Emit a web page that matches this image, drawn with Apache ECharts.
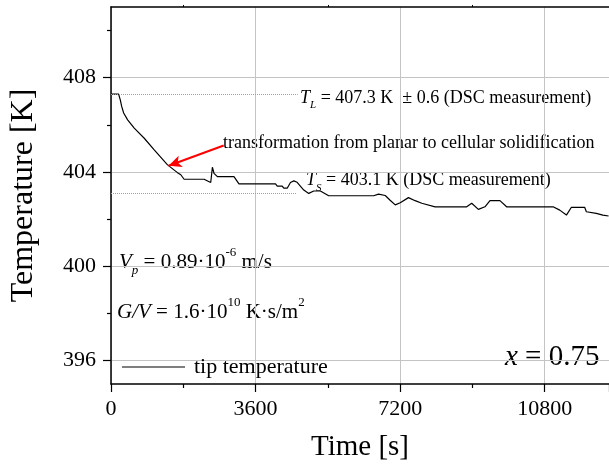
<!DOCTYPE html>
<html>
<head>
<meta charset="utf-8">
<script src="https://cdn.jsdelivr.net/npm/echarts@6/dist/echarts.min.js"></script>
<style>
  html, body { margin: 0; padding: 0; background: #fff; }
  #chart { width: 609px; height: 468px; }
</style>
</head>
<body>
<div id="chart"></div>
<script>
// Tip temperature during directional solidification
const timeS = [0, 190, 231, 266, 315, 414, 579, 828, 1076, 1408, 1656, 1738, 1820,
  2317, 2483, 2525, 2565, 2649, 3062, 3186, 4097, 4139, 4263, 4303, 4387, 4469,
  4552, 4635, 4800, 4924, 5048, 5214, 5420, 6539, 6662, 6828, 6950, 7077, 7201,
  7407, 7573, 7739, 8070, 8857, 8981, 9147, 9312, 9436, 9685, 9850, 11008, 11174,
  11340, 11464, 11794, 11836, 12083, 12248, 12390];
const tipTempK = [407.3, 407.3, 407.06, 406.78, 406.5, 406.21, 405.86, 405.43, 404.94, 404.3, 403.97, 403.88, 403.69,
  403.69, 403.55, 404.2, 403.94, 403.8, 403.8, 403.49, 403.49, 403.4, 403.4, 403.31, 403.31, 403.55,
  403.62, 403.56, 403.23, 403.09, 403.19, 403.19, 402.99, 402.99, 403.06, 403.0, 402.8, 402.6, 402.69,
  402.91, 402.78, 402.67, 402.52, 402.52, 402.67, 402.41, 402.52, 402.78, 402.78, 402.52, 402.52, 402.38,
  402.17, 402.5, 402.5, 402.31, 402.24, 402.17, 402.13];

// Reference temperatures (DSC) and the transition arrow, in data units
const liquidusK = 407.3;
const solidusK = 403.1;
const refLineEndS = [4650, 4620];
const arrowFrom = [2806, 405.12];
const arrowTo = [1433, 404.26];

const xTicks = [0, 3600, 7200, 10800];
const yMajorTicks = [396, 400, 404, 408];
const yMinorTicks = [398, 402, 406, 410];

const SERIF = 'Liberation Serif';
const measureCtx = document.createElement('canvas').getContext('2d');
function textWidth(str, size, italic) {
  measureCtx.font = (italic ? 'italic ' : '') + size + 'px "' + SERIF + '"';
  return measureCtx.measureText(str).width;
}
// Inline formula built from pieces: '' normal, 'i' italic, 'sub'/'isub' subscript, 'sup' superscript
function formula(x, y, size, parts) {
  const children = [];
  let cx = x;
  for (const [t, kind] of parts) {
    const isSub = kind.indexOf('sub') >= 0;
    const isSup = kind.indexOf('sup') >= 0;
    const italic = kind.charAt(0) === 'i';
    const fs = (isSub || isSup) ? Math.round(size * 0.62) : size;
    const dy = isSub ? size * 0.42 : (isSup ? -size * 0.45 : 0);
    children.push({
      type: 'text', x: cx, y: y + dy, silent: true,
      style: {
        text: t, fill: '#000', fontSize: fs, fontFamily: SERIF,
        fontStyle: italic ? 'italic' : 'normal', align: 'left', verticalAlign: 'middle'
      }
    });
    cx += textWidth(t, fs, italic);
  }
  return { type: 'group', children: children };
}

const seriesData = timeS.map((t, i) => [t, tipTempK[i]]);

const chart = echarts.init(document.getElementById('chart'), null, { renderer: 'canvas' });

const axisLineStyle = { color: '#000', width: 1.5 };
const gridLineStyle = { color: '#c4c4c4', width: 1 };
const tickLabel = { fontFamily: SERIF, fontSize: 22, color: '#000', formatter: v => String(v) };

chart.setOption({
  animation: false,
  backgroundColor: '#fff',
  grid: { left: 110, top: 7, right: 0, bottom: 84, containLabel: false },
  legend: {
    left: 122, top: 356, padding: 0,
    icon: 'rect', itemWidth: 63, itemHeight: 1.2,
    itemStyle: { color: '#000' },
    textStyle: { fontFamily: SERIF, fontSize: 22, color: '#000', padding: [0, 0, 0, 4] },
    data: ['tip temperature']
  },
  xAxis: [{
    type: 'value', min: 0, max: 12400, interval: 3600,
    name: 'Time [s]', nameLocation: 'middle', nameGap: 49,
    nameTextStyle: { fontFamily: SERIF, fontSize: 29, color: '#000' },
    axisLine: { lineStyle: axisLineStyle },
    axisTick: { show: true, length: 8, lineStyle: { color: '#000', width: 1.2 } },
    minorTick: { show: true, splitNumber: 2, length: 4, lineStyle: { color: '#000', width: 1.2 } },
    axisLabel: Object.assign({ margin: 14, customValues: xTicks }, tickLabel),
    splitLine: { show: true, lineStyle: gridLineStyle }
  }, {
    type: 'value', position: 'top', min: 0, max: 12400, interval: 3600,
    axisLine: { lineStyle: axisLineStyle },
    axisTick: { show: false },
    minorTick: { show: true, splitNumber: 2, length: 2, lineStyle: { color: '#000', width: 1 } },
    axisLabel: { show: false },
    splitLine: { show: false }
  }],
  yAxis: [{
    type: 'value', min: 395, max: 411,
    name: 'Temperature [K]', nameLocation: 'middle', nameGap: 71,
    nameTextStyle: { fontFamily: SERIF, fontSize: 32, color: '#000' },
    axisLine: { show: true, lineStyle: axisLineStyle },
    axisTick: { show: true, length: 8, customValues: yMajorTicks, lineStyle: { color: '#000', width: 1.2 } },
    axisLabel: Object.assign({ margin: 15, customValues: yMajorTicks }, tickLabel),
    splitLine: { show: true, lineStyle: gridLineStyle }
  }, {
    type: 'value', position: 'left', min: 395, max: 411,
    axisLine: { show: false },
    axisTick: { show: true, length: 4, customValues: yMinorTicks, lineStyle: { color: '#000', width: 1.2 } },
    axisLabel: { show: false, customValues: yMinorTicks },
    splitLine: { show: false }
  }],
  series: [{
    name: 'tip temperature',
    type: 'line',
    data: seriesData,
    symbol: 'none',
    lineStyle: { color: '#000', width: 1.2 },
    itemStyle: { color: '#000' },
    markLine: {
      silent: true,
      symbol: 'none',
      label: { show: false },
      data: [
        [{ coord: [0, liquidusK], lineStyle: { color: '#f08080', type: 'dotted', width: 1 } },
         { coord: [refLineEndS[0], liquidusK] }],
        [{ coord: [0, solidusK], lineStyle: { color: '#f08080', type: 'dotted', width: 1 } },
         { coord: [refLineEndS[1], solidusK] }],
        [{ coord: arrowFrom, symbol: 'none', lineStyle: { color: '#ff0000', type: 'solid', width: 2 } },
         { coord: arrowTo, symbol: 'arrow', symbolSize: [9, 13] }]
      ]
    }
  }],
  graphic: [
    formula(300, 98, 18, [['T', 'i'], ['L', 'isub'], [' = 407.3 K  \u00b1 0.6 (DSC measurement)', '']]),
    formula(223, 143, 18, [['transformation from planar to cellular solidification', '']]),
    formula(306, 180.5, 18, [['T', 'i'], ['S', 'isub'], [' = 403.1 K (DSC measurement)', '']]),
    formula(119, 262, 21, [['V', 'i'], ['p', 'isub'], [' = 0.89\u00b710', ''], ['-6', 'sup'], [' m/s', '']]),
    formula(117, 312.5, 21, [['G/V', 'i'], [' = 1.6\u00b710', ''], ['10', 'sup'], [' K\u00b7s/m', ''], ['2', 'sup']]),
    formula(505, 357, 29, [['x', 'i'], [' = 0.75', '']])
  ]
});
</script>
</body>
</html>
